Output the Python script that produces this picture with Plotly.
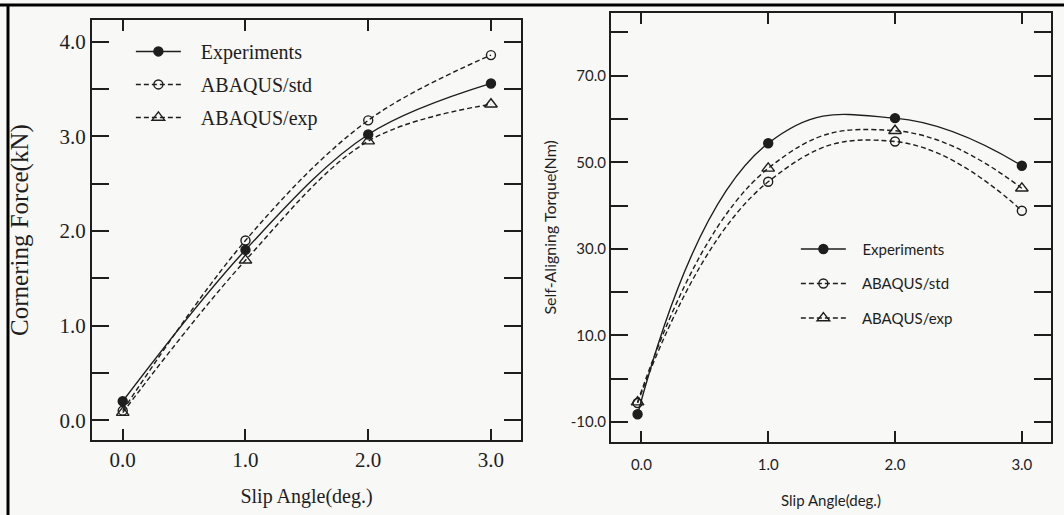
import plotly.graph_objects as go

# ---------------- data ----------------
slip_left = [0.0, 1.0, 2.0, 3.0]
cf_experiments = [0.20, 1.80, 3.02, 3.56]
cf_abaqus_std = [0.10, 1.90, 3.17, 3.86]
cf_abaqus_exp = [0.08, 1.69, 2.95, 3.34]

slip_right = [-0.03, 1.0, 2.0, 3.0]
sat_experiments = [-8.2, 54.4, 60.2, 49.2]
sat_abaqus_std = [-5.6, 45.5, 54.8, 38.8]
sat_abaqus_exp = [-5.4, 48.6, 57.3, 44.0]

series_names = ["Experiments", "ABAQUS/std", "ABAQUS/exp"]

x_tickvals = [0, 1, 2, 3]
x_ticktext = ["0.0", "1.0", "2.0", "3.0"]
left_y_tickvals = [0, 0.5, 1, 1.5, 2, 2.5, 3, 3.5, 4]
left_y_ticktext = ["0.0", "", "1.0", "", "2.0", "", "3.0", "", "4.0"]
right_y_tickvals = [-10, 0, 10, 20, 30, 40, 50, 60, 70, 80]
right_y_ticktext = ["-10.0", "", "10.0", "", "30.0", "", "50.0", "", "70.0", ""]

INK = "#1e1e1e"
BG = "#f8f8f6"
SERIF = "Liberation Serif"
SANS = "Lato"
NB = "\u00a0"

styles = [
    dict(dash="solid", symbol="circle", size=9),
    dict(dash="5px,3px", symbol="circle-open", size=9),
    dict(dash="5px,3px", symbol="triangle-up-open", size=11),
]

fig = go.Figure()

left_sets = [cf_experiments, cf_abaqus_std, cf_abaqus_exp]
right_sets = [sat_experiments, sat_abaqus_std, sat_abaqus_exp]

for i, (name, ys, st) in enumerate(zip(series_names, left_sets, styles)):
    fig.add_trace(go.Scatter(
        x=slip_left, y=ys, name=NB * 3 + name, mode="lines+markers",
        legendgroup="L%d" % i,
        line=dict(color=INK, width=1.4, dash=st["dash"], shape="spline", smoothing=1.0),
        marker=dict(symbol=st["symbol"], size=st["size"], color=INK,
                    line=dict(color=INK, width=1.4)),
        xaxis="x", yaxis="y", legend="legend",
    ))

for i, (name, ys, st) in enumerate(zip(series_names, right_sets, styles)):
    fig.add_trace(go.Scatter(
        x=slip_right, y=ys, name=NB * 3 + name, mode="lines+markers",
        legendgroup="R%d" % i,
        line=dict(color=INK, width=1.4, dash=st["dash"], shape="spline", smoothing=1.3),
        marker=dict(symbol=st["symbol"], size=st["size"], color=INK,
                    line=dict(color=INK, width=1.4)),
        xaxis="x2", yaxis="y2", legend="legend2",
    ))

axis_common = dict(showgrid=False, zeroline=False, showline=True, linecolor=INK,
                   linewidth=2, mirror="ticks", ticks="inside", tickcolor=INK,
                   tickwidth=2)

fig.update_layout(
    width=1064, height=515,
    margin=dict(l=0, r=0, t=0, b=0),
    paper_bgcolor=BG, plot_bgcolor=BG,
    xaxis=dict(domain=[0.0865, 0.4897], range=[-0.25, 3.245], tickvals=x_tickvals,
               ticktext=x_ticktext, ticklen=11,
               tickfont=dict(family=SERIF, size=21, color=INK),
               title=dict(text="Slip Angle(deg.)", standoff=18,
                          font=dict(family=SERIF, size=20, color=INK)),
               anchor="y", **axis_common),
    yaxis=dict(domain=[0.1456, 0.961], range=[-0.21, 4.23], tickvals=left_y_tickvals,
               ticktext=left_y_ticktext, ticklen=17,
               tickfont=dict(family=SERIF, size=21, color=INK),
               title=dict(text="Cornering Force(kN)", standoff=24,
                          font=dict(family=SERIF, size=25, color=INK)),
               anchor="x", **axis_common),
    xaxis2=dict(domain=[0.5742, 0.9878], range=[-0.24, 3.23], tickvals=x_tickvals,
                ticktext=x_ticktext, ticklen=11, ticklabelstandoff=8,
                tickfont=dict(family=SANS, size=15, color=INK),
                title=dict(text="Slip Angle(deg.)", standoff=24,
                           font=dict(family=SANS, size=15, color=INK)),
                anchor="y2", **axis_common),
    yaxis2=dict(domain=[0.1423, 0.9748], range=[-14.55, 84.5], tickvals=right_y_tickvals,
                ticktext=right_y_ticktext, ticklen=17,
                tickfont=dict(family=SANS, size=15, color=INK),
                title=dict(text="Self-Aligning Torque(Nm)", standoff=10,
                           font=dict(family=SANS, size=16, color=INK)),
                anchor="x2", **axis_common),
    legend=dict(x=0.123, y=0.938, xanchor="left", yanchor="top",
                bgcolor="rgba(0,0,0,0)", itemwidth=45, tracegroupgap=4,
                font=dict(family=SERIF, size=20, color=INK)),
    legend2=dict(x=0.748, y=0.548, xanchor="left", yanchor="top",
                 bgcolor="rgba(0,0,0,0)", itemwidth=45, tracegroupgap=12,
                 font=dict(family=SANS, size=15, color=INK)),
    shapes=[
        dict(type="line", xref="paper", yref="paper", x0=0.0, x1=1.0,
             y0=1 - 5 / 515, y1=1 - 5 / 515, line=dict(color="#000", width=3)),
        dict(type="line", xref="paper", yref="paper", x0=8 / 1064, x1=8 / 1064,
             y0=0, y1=1 - 5 / 515, line=dict(color="#000", width=3)),
    ],
)

fig.write_html("out.html")
